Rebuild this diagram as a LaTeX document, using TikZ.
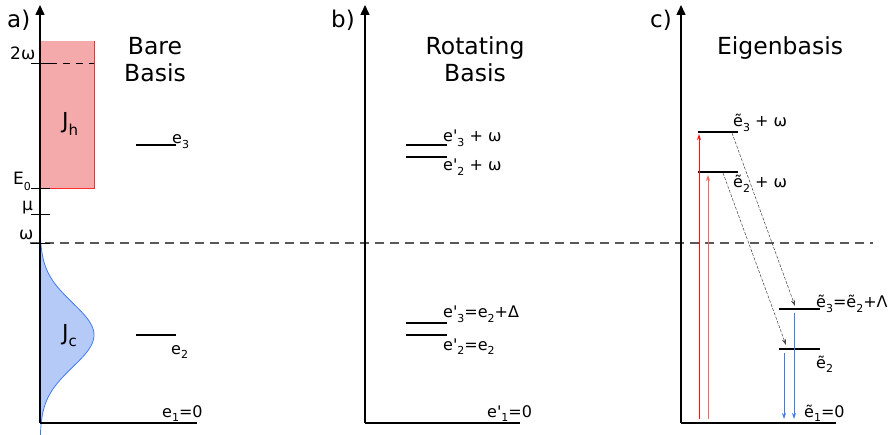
\documentclass[tikz,border=0pt]{standalone}
\usepackage{fontspec}
\setmainfont{DejaVu Sans}
\usetikzlibrary{arrows.meta,positioning}
\definecolor{hot}{HTML}{F4AAAA}
\definecolor{hotline}{HTML}{FF2E2E}
\definecolor{cold}{HTML}{B6CAF7}
\definecolor{coldline}{HTML}{3C7BFF}
\definecolor{pumpA}{HTML}{FF1010}
\definecolor{pumpB}{HTML}{FF6060}
\newcommand{\lsub}[1]{\raisebox{-0.3em}{\fontsize{11}{10}\selectfont #1}}
\newcommand{\bigsub}[1]{\raisebox{-0.3em}{\fontsize{15}{15}\selectfont #1}}

\begin{document}
\begin{tikzpicture}[x=1pt, y=-1pt, >=Stealth,
  font=\fontsize{16}{18}\selectfont,
  axis/.style={line width=1.5pt, -{Triangle[length=10pt,width=9pt]}},
  lvl/.style={line width=1.6pt},
  tickmark/.style={line width=0.8pt},
  omegaline/.style={black!65, line width=1.2pt, dash pattern=on 9pt off 6pt},
  title/.style={font=\fontsize{23.5}{27}\selectfont, align=center, anchor=base},
  tag/.style={font=\fontsize{23}{24}\selectfont, anchor=base west, inner sep=0pt},
  lbl/.style={anchor=base west, inner sep=0pt},
  ticklbl/.style={anchor=base west, inner sep=0pt, font=\fontsize{17}{18}\selectfont},
  bandlbl/.style={anchor=base west, inner sep=0pt, font=\fontsize{22}{24}\selectfont},
  decay/.style={black!75, line width=0.5pt, dash pattern=on 3pt off 1.5pt, -{Stealth[length=6pt,width=4pt]}},
  pump/.style={line width=0.9pt, -{Stealth[length=6pt,width=4pt]}},
  emit/.style={coldline, line width=0.9pt, -{Stealth[length=6pt,width=4pt]}}]
\useasboundingbox (0,0) rectangle (888,435);

% a) bare basis
\fill[hot] (40,41) rectangle (94,188);
\draw[hotline, line width=0.9pt] (94,41) -- (94,188) -- (40,188);
\node[bandlbl] (jh) at (62,129) {J\bigsub{h}};
\fill[cold, domain=243:423, samples=80] plot ({40+54*exp(-0.5*((\x-335)/32)^2)}, \x) -- (40,423) -- (40,243) -- cycle;
\draw[coldline, line width=0.8pt, domain=236:436, samples=90] plot ({40+54*exp(-0.5*((\x-335)/32)^2)}, \x);
\node[bandlbl] (jc) at (62,340) {J\bigsub{c}};

\draw[omegaline] (30,243) -- (873,243);

\coordinate (aO) at (40,423);
\coordinate (aTop) at (40,5);
\coordinate (aEnd) at (197,423);
\draw[line width=1.5pt] (aO) -- (aEnd);
\draw[axis] (aO) -- (aTop);
\draw[tickmark] (31,63) -- (50,63);
\draw[black, line width=0.8pt, dash pattern=on 7pt off 6pt] (50,63) -- (94,63);
\draw[tickmark] (31,188) -- (50,188);
\draw[tickmark] (31,214) -- (50,214);
\draw[tickmark] (31,243) -- (50,243);
\node[ticklbl] (l2w) at (10,60) {2ω};
\node[ticklbl] (lE) at (13,185) {E\lsub{0}};
\node[ticklbl] (lmu) at (22,211) {μ};
\node[ticklbl] (lw) at (19,240) {ω};

\node[tag] (ta) at (7,28) {a)};
\node[title] (bare) at (155,82) {Bare\\Basis};
\draw[lvl] (136,145) -- (176,145);
\draw[lvl] (136,335) -- (176,335);
\node[lbl] (e3) at (172,144) {e\lsub{3}};
\node[lbl] (e2) at (171,354) {e\lsub{2}};
\node[lbl] (e1) at (162,417) {e\lsub{1}=0};

% b) rotating basis
\coordinate (bO) at (365,423);
\coordinate (bTop) at (365,5);
\coordinate (bEnd) at (520,423);
\draw[line width=1.5pt] (bO) -- (bEnd);
\draw[axis] (bO) -- (bTop);
\node[tag] (tb) at (331,28) {b)};
\node[title] (rot) at (475,82) {Rotating\\Basis};
\draw[lvl] (406,145) -- (447,145);
\draw[lvl] (406,157) -- (447,157);
\draw[lvl] (406,323) -- (447,323);
\draw[lvl] (406,335) -- (447,335);
\node[lbl] (b3w) at (443,142) {e\textquotesingle\lsub{3} + ω};
\node[lbl] (b2w) at (443,171) {e\textquotesingle\lsub{2} + ω};
\node[lbl] (b3) at (443,318) {e\textquotesingle\lsub{3}=e\lsub{2}+Δ};
\node[lbl] (b2) at (443,350) {e\textquotesingle\lsub{2}=e\lsub{2}};
\node[lbl] (b1) at (487,417) {e\textquotesingle\lsub{1}=0};

% c) eigenbasis
\coordinate (cO) at (681,423);
\coordinate (cTop) at (681,5);
\coordinate (cEnd) at (836,423);
\draw[line width=1.5pt] (cO) -- (cEnd);
\draw[axis] (cO) -- (cTop);
\node[tag] (tc) at (650,28) {c)};
\node[title] (eig) at (780,55) {Eigenbasis};
\draw[lvl] (698,132) coordinate (u3) -- (738,132);
\draw[lvl] (698,172) coordinate (u2) -- (738,172);
\draw[lvl] (779,309) coordinate (d3) -- (820,309);
\draw[lvl] (779,349) coordinate (d2) -- (820,349);
\node[lbl] (c3w) at (733,127) {ẽ\lsub{3} + ω};
\node[lbl] (c2w) at (733,188) {ẽ\lsub{2} + ω};
\node[lbl] (c3) at (816,308) {ẽ\lsub{3}=ẽ\lsub{2}+Λ};
\node[lbl] (c2) at (816,368) {ẽ\lsub{2}};
\node[lbl] (c1) at (804,417) {ẽ\lsub{1}=0};

\coordinate (p3) at (699,419);
\coordinate (p2) at (708,419);
\draw[pump, pumpA] (p3) -- (699,134);
\draw[pump, pumpB] (p2) -- (708,175);
\draw[decay] (732,133) -- (795,306);
\draw[decay] (723,173) -- (786,345);
\draw[emit] (794,313) -- (794,419);
\draw[emit] (784,353) -- (784,419);
\end{tikzpicture}
\end{document}
